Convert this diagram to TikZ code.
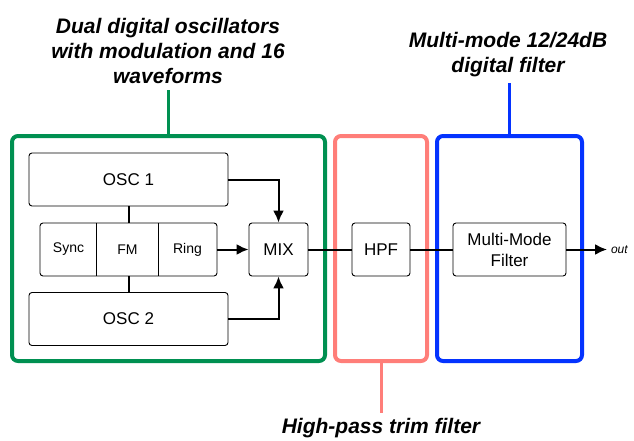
\documentclass[tikz,border=0pt]{standalone}
\usepackage{fontspec}
\setmainfont{Liberation Sans}
\usetikzlibrary{arrows.meta}

\definecolor{oscgreen}{RGB}{0,144,81}
\definecolor{hpfpink}{RGB}{255,126,121}
\definecolor{vcfblue}{RGB}{4,51,255}

\tikzset{
  blk/.style={draw, rounded corners=3pt, line width=0.9pt, inner sep=0pt,
    minimum height=53pt, font=\fontsize{17}{21}\selectfont, align=center},
  modcell/.style={inner sep=0pt, minimum height=53pt, font=\fontsize{14}{17}\selectfont},
  grp/.style={draw=#1, line width=4pt, rounded corners=6pt, inner sep=0pt,
    minimum height=225pt},
  stem/.style={line width=3pt},
  sig/.style={line width=2pt},
  arr/.style={sig, -{Latex[length=12pt,width=11pt]}},
  title/.style={font=\fontsize{21}{25}\selectfont\bfseries\itshape, align=center,
    inner sep=0pt, outer ysep=6pt},
}

\begin{document}
\begin{tikzpicture}[x=1pt, y=-1pt]
\useasboundingbox (0,0) rectangle (634,441);

% the three coloured groups
\node[grp=oscgreen, minimum width=313pt] (oscgrp) at (168.5,248.5) {};
\node[grp=hpfpink, minimum width=92pt] (hpfgrp) at (381,248.5) {};
\node[grp=vcfblue, minimum width=145pt] (vcfgrp) at (509.5,248.5) {};

\node[title] (osctitle) at (168,51) {Dual digital oscillators\\with modulation and 16\\waveforms};
\node[title] (vcftitle) at (508,55) {Multi-mode 12/24dB\\digital filter};
\node[title] (hpftitle) at (381,428.5) {High-pass trim filter};

\draw[stem, oscgreen] (oscgrp.north) -- (oscgrp.north |- osctitle.south);
\draw[stem, vcfblue] (vcfgrp.north) -- (vcfgrp.north |- vcftitle.south);
\draw[stem, hpfpink] (hpfgrp.south) -- (hpfgrp.south |- hpftitle.north);

% oscillators and modulation strip
\node[blk, minimum width=199pt] (osc1) at (128.5,179.5) {OSC 1};
\node[blk, minimum width=177pt] (mod) at (128.5,249.5) {};
\node[blk, minimum width=199pt] (osc2) at (128.5,319) {OSC 2};
\node[modcell, minimum width=57pt] (sync) at (68.5,249.5) {Sync};
\node[modcell, minimum width=61pt] (fm) at (127.5,249.5) {FM};
\node[modcell, minimum width=59pt] (ring) at (187.5,249.5) {Ring};
\draw[line width=0.9pt] (fm.north west) -- (fm.south west);
\draw[line width=0.9pt] (fm.north east) -- (fm.south east);
\draw[sig] (osc1.south) -- (mod.north);
\draw[sig] (mod.south) -- (osc2.north);

\node[blk, minimum width=59pt] (mix) at (278.5,249.5) {MIX};
\draw[arr] (osc1.east) -| (mix.north);
\draw[arr] (osc2.east) -| (mix.south);
\draw[arr] (mod.east) -- (mix.west);

% filters and output
\node[blk, minimum width=58pt] (hpf) at (381,249.5) {HPF};
\node[blk, minimum width=113pt] (mmf) at (509.5,249.5) {Multi-Mode\\Filter};
\coordinate (out) at (607,249.5);
\draw[sig] (mix) -- (hpf);
\draw[sig] (hpf) -- (mmf);
\draw[arr] (mmf) -- (out) node[right, inner sep=3pt, font=\fontsize{12}{14}\selectfont\itshape]{out};
\end{tikzpicture}
\end{document}
